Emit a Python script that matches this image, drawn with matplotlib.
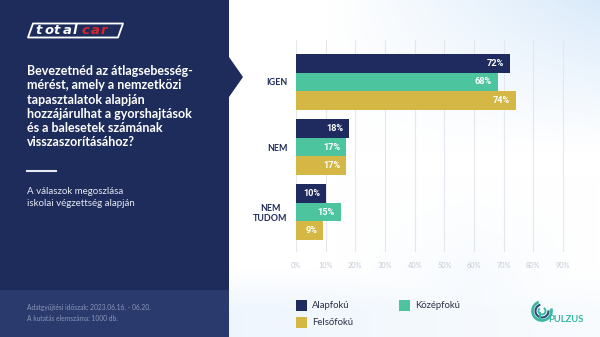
import numpy as np
import matplotlib
matplotlib.use("Agg")
import matplotlib.pyplot as plt
from matplotlib.patches import Rectangle, Polygon, Arc

plt.rcParams['font.family'] = ['Lato', 'DejaVu Sans']

# survey data
answers = ['IGEN', 'NEM', 'NEM\nTUDOM']
groups = ['Alapfokú', 'Középfokú', 'Felsőfokú']
values = {
    'Alapfokú': [72, 18, 10],
    'Középfokú': [68, 17, 15],
    'Felsőfokú': [74, 17, 9],
}
xticks = [0, 10, 20, 30, 40, 50, 60, 70, 80, 90]

colors = {'Alapfokú': '#1f2a5e', 'Középfokú': '#4cc59e', 'Felsőfokú': '#d4b744'}
navy = '#1e2c5c'

W, H = 600, 337
fig = plt.figure(figsize=(6, 3.37), dpi=100)

# background layer in pixel coordinates
bg = fig.add_axes([0, 0, 1, 1], zorder=0)
bg.set_xlim(0, W)
bg.set_ylim(H, 0)
bg.axis('off')

gx, gy = np.meshgrid(np.linspace(0, W, 200), np.linspace(0, H, 120))
t = np.clip((gx - 330) / 270, 0, 1) * np.clip(1 - gy / 150, 0, 1) * 0.9
t = np.maximum(t, np.clip((gy - 270) / 40, 0, 1) * 0.4 * np.clip(1 - (gx - 230) / 600, 0.2, 1))
t = np.maximum(t, 0.22 * np.clip(1 - np.abs(gx - 470) / 130, 0, 1) * np.clip((gy - 180) / 110, 0, 1))
c0 = np.array([1.0, 1.0, 1.0])
c1 = np.array([0.84, 0.91, 0.98])
img = c0[None, None, :] * (1 - t[..., None]) + c1[None, None, :] * t[..., None]
bg.imshow(img, extent=(0, W, H, 0), aspect='auto', zorder=0)

# left panel with pointer
bg.add_patch(Polygon([(0, 0), (229, 0), (229, 57), (243, 77), (229, 97),
                      (229, H), (0, H)], closed=True, color=navy, zorder=1, lw=0))
bg.add_patch(Rectangle((0, 290), 229, H - 290, color='#2a3a6c', zorder=2, lw=0))

# totalcar logo
bg.add_patch(Polygon([(33, 23.5), (123, 23.5), (118, 37.5), (28, 37.5)], closed=True,
                     fill=False, ec='white', lw=1.3, joinstyle='round', zorder=3))
for k, ch in enumerate('totalcar'):
    bg.text(35 + k * 9.3, 31, ch, color='white' if k < 5 else '#d8262e',
            fontsize=9.5, fontweight='heavy', fontstyle='italic',
            va='center', ha='left', zorder=4, family=['DejaVu Sans'])

title = ('Bevezetnéd az átlagsebesség-\nmérést, amely a nemzetközi\n'
         'tapasztalatok alapján\nhozzájárulhat a gyorshajtások\n'
         'és a balesetek számának\nvisszaszorításához?')
bg.text(27, 65, title, color='white', fontsize=9, fontweight='bold',
        va='top', ha='left', linespacing=1.23, zorder=4)
bg.plot([27, 56], [171, 171], color='#e6e9f2', lw=1.5, zorder=4)
bg.text(27, 187, 'A válaszok megoszlása\niskolai végzettség alapján',
        color='#e4e8f2', fontsize=7, va='top', ha='left', linespacing=1.45, zorder=4)
bg.text(27, 304, 'Adatgyűjtési időszak: 2023.06.16. - 06.20.\nA kutatás elemszáma: 1000 db.',
        color='#8a96b8', fontsize=4.8, va='top', ha='left', linespacing=1.6, zorder=4)

# legend
for name, (lx, ly) in zip(groups, [(296, 300), (399, 300), (296, 317)]):
    bg.add_patch(Rectangle((lx, ly), 11, 11, color=colors[name], zorder=3, lw=0))
    bg.text(lx + 16, ly + 5.5, name, color='#2a2f45', fontsize=6.8,
            va='center', ha='left', zorder=4)

# pulzus logo
bg.add_patch(Arc((542, 311), 19, 19, theta1=-15, theta2=250, color='#3cb8a0', lw=2.0, zorder=3))
bg.add_patch(Arc((542, 311), 13, 13, theta1=-5, theta2=255, color='#2a4a7a', lw=1.5, zorder=3))
bg.add_patch(Arc((542, 311), 7, 7, theta1=-60, theta2=230, color='#3cb8a0', lw=1.4, zorder=3))
bg.plot([539.5, 539.5], [313, 319], color='#3cb8a0', lw=1.4, zorder=3)
bg.text(548, 320, 'PULZUS', color='#35b8a2', fontsize=6.8, fontweight='bold',
        va='center', ha='left', zorder=4)

# bar chart
ax = fig.add_axes([296 / W, 1 - 252 / H, 270 / W, 212 / H], zorder=2)
ax.patch.set_alpha(0)
bar_h = 0.288
pos = np.arange(len(answers))
for i, name in enumerate(groups):
    yy = pos + (i - 1) * bar_h
    ax.barh(yy, values[name], height=bar_h, color=colors[name], zorder=3)
    for y, v in zip(yy, values[name]):
        ax.text(v - 1.9, y, f'{v}%', color='white', fontsize=6.6, fontweight='bold',
                va='center', ha='right', zorder=4,
                family=['Liberation Sans Narrow', 'Roboto', 'DejaVu Sans'])

ax.set_xlim(0, 91)
ax.set_ylim(2.615, -0.646)
ax.set_xticks(xticks)
ax.set_xticklabels([f'{x}%' for x in xticks], color='#c3cad6', fontsize=5.3)
ax.tick_params(axis='x', length=0, pad=7)
ax.set_yticks(pos)
ax.set_yticklabels(answers, color='#1f2a5e', fontsize=6.4, fontweight='bold',
                   multialignment='center')
ax.tick_params(axis='y', length=0, pad=6)
ax.grid(axis='x', color='#e3e7ee', lw=0.8, zorder=0)
for s in ax.spines.values():
    s.set_visible(False)

fig.savefig('out.png', dpi=100)
